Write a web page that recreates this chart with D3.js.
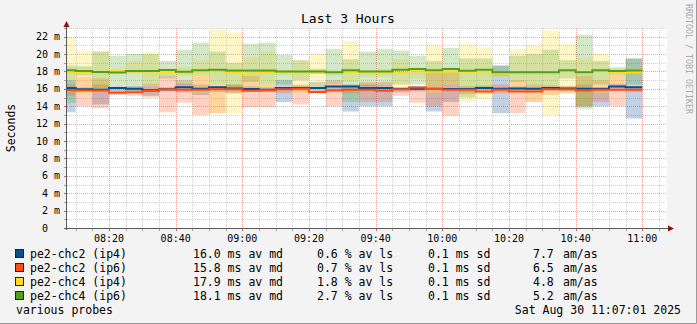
<!DOCTYPE html>
<html><head><meta charset="utf-8">
<script src="https://cdn.jsdelivr.net/npm/d3@7"></script>
<style>html,body{margin:0;padding:0;background:#f3f3f3}svg{display:block}</style>
</head><body>
<svg id="chart" width="697" height="324"></svg>
<script>
// 5-minute bins (start time of each bin)
const binStarts = ["08:05","08:10","08:15","08:20","08:25","08:30","08:35","08:40","08:45","08:50",
  "08:55","09:00","09:05","09:10","09:15","09:20","09:25","09:30","09:35","09:40",
  "09:45","09:50","09:55","10:00","10:05","10:10","10:15","10:20","10:25","10:30",
  "10:35","10:40","10:45","10:50","10:55"];
const binMinutes = 5;

// pe2-chc2 (ip4) — median and smoke range, ms
const chc2ip4Median = [16.1,15.95,15.9,16.1,16.0,15.85,15.95,16.2,16.0,16.2,16.05,15.98,15.9,16.1,16.1,16.1,16.28,16.28,16.1,16.1,15.98,16.0,16.0,15.98,15.98,16.1,16.0,16.05,16.0,16.1,16.05,16.0,16.0,16.28,16.2];
const chc2ip4Hi = [17.0,16.2,16.5,16.3,16.3,16.3,16.2,16.6,16.5,16.3,16.5,16.3,16.2,17.0,16.4,16.8,16.4,16.5,16.5,16.5,16.2,16.3,16.5,16.5,16.3,16.4,18.7,16.3,16.3,16.4,16.3,16.5,16.0,16.6,19.5];
const chc2ip4Lo = [13.3,15.8,14.2,15.6,15.7,15.2,15.7,15.6,15.3,15.6,15.5,15.7,15.6,14.5,15.7,15.8,15.8,13.4,14.0,14.0,15.6,15.7,13.4,14.5,15.6,15.8,13.2,15.7,15.6,15.8,15.7,14.0,14.0,16.0,12.6];

// pe2-chc2 (ip6)
const chc2ip6Median = [15.88,15.8,15.8,15.55,15.6,15.75,15.95,15.9,15.9,15.95,15.95,15.78,15.85,15.95,16.0,15.63,15.82,15.9,15.9,15.78,15.95,16.17,15.98,15.9,15.9,15.7,15.9,15.7,15.7,15.95,15.95,15.8,15.9,15.9,15.9];
const chc2ip6Hi = [16.5,17.4,17.2,15.8,16.0,16.6,17.5,17.0,17.5,16.5,16.5,17.5,16.5,16.2,16.5,15.9,17.0,16.2,16.8,16.8,16.2,16.3,18.0,18.0,16.0,16.0,16.5,17.0,16.5,16.3,16.3,17.5,17.0,17.5,16.2];
const chc2ip6Lo = [15.2,14.0,13.8,15.3,15.2,15.0,13.3,14.4,13.0,13.2,15.5,13.9,13.9,15.5,14.2,15.5,14.0,15.5,14.5,14.5,15.2,14.4,14.0,12.9,15.4,15.4,15.5,13.2,14.5,15.3,15.5,14.0,14.5,14.0,15.6];

// pe2-chc4 (ip4)
const chc4ip4Median = [17.95,17.9,17.9,18.05,18.0,18.0,17.95,17.8,18.0,18.1,17.85,17.78,17.85,17.9,17.82,17.82,17.9,17.9,17.85,17.82,17.82,18.1,17.97,18.0,17.97,18.0,17.75,17.82,17.85,17.95,18.1,17.9,18.1,17.82,17.9];
const chc4ip4Hi = [22.0,20.4,20.3,18.2,19.2,20.2,18.3,18.5,19.3,22.8,22.5,19.6,20.3,18.2,19.3,20.1,18.2,21.5,18.2,18.3,19.4,18.4,21.0,18.5,21.2,20.8,18.0,20.6,21.0,22.7,21.2,19.5,20.0,18.3,18.5];
const chc4ip4Lo = [17.0,15.3,16.0,17.8,17.8,16.5,17.5,17.5,15.5,13.2,13.2,15.8,16.0,17.6,15.5,15.8,17.5,16.8,17.4,17.4,16.2,17.2,15.5,16.5,14.5,14.8,17.4,15.5,14.5,13.0,15.5,14.2,15.5,16.5,17.5];

// pe2-chc4 (ip6)
const chc4ip6Median = [18.13,18.05,17.93,17.88,18.05,18.05,18.16,17.97,18.15,18.2,18.1,18.1,18.1,18.0,18.0,18.0,17.9,18.13,18.0,18.0,18.2,18.28,18.13,18.28,18.09,18.2,17.9,17.9,17.9,17.9,18.15,17.9,18.15,18.05,18.1];
const chc4ip6Hi = [18.7,18.6,20.3,19.8,20.0,20.0,19.2,20.5,21.3,20.3,19.0,21.2,21.3,19.9,19.3,18.3,20.6,19.4,20.3,20.6,20.4,19.8,19.2,20.7,19.5,19.5,18.7,19.8,20.0,20.5,19.3,22.2,19.2,18.5,19.5];
const chc4ip6Lo = [14.4,17.5,16.0,16.3,15.8,16.3,17.2,16.5,17.5,16.5,15.8,16.8,16.5,16.5,17.0,17.8,16.5,14.5,16.3,16.5,16.5,16.5,16.5,16.5,15.0,16.2,17.5,16.8,16.3,16.3,17.2,13.7,16.5,17.5,16.5];

// legend / statistics
const seriesNames = ["pe2-chc2 (ip4)","pe2-chc2 (ip6)","pe2-chc4 (ip4)","pe2-chc4 (ip6)"];
const seriesColors = ["#0c4d8c","#ff4a14","#ffdc24","#52a01e"];
const avgMedian = ["16.0","15.8","17.9","18.1"];
const avgLoss = ["0.6","0.7","1.8","2.7"];
const stdDev = ["0.1","0.1","0.1","0.1"];
const amAs = ["7.7","6.5","4.8","5.2"];

// axis ticks
const yTicks = [0,2,4,6,8,10,12,14,16,18,20,22];
const xTickLabels = ["08:20","08:40","09:00","09:20","09:40","10:00","10:20","10:40","11:00"];

const chartTitle = "Last 3 Hours";
const yTitle = "Seconds";
const footLeft = "various probes";
const footRight = "Sat Aug 30 11:07:01 2025";
const vendorText = "RRDTOOL / TOBI OETIKER";

const series = [
  {median: chc2ip4Median, hi: chc2ip4Hi, lo: chc2ip4Lo},
  {median: chc2ip6Median, hi: chc2ip6Hi, lo: chc2ip6Lo},
  {median: chc4ip4Median, hi: chc4ip4Hi, lo: chc4ip4Lo},
  {median: chc4ip6Median, hi: chc4ip6Hi, lo: chc4ip6Lo}
];

const hm = s => { const [h, m] = s.split(":").map(Number); return new Date(2025, 7, 30, h, m, 0); };
const t0 = new Date(2025, 7, 30, 8, 7, 24), t1 = new Date(2025, 7, 30, 11, 7, 24);

const W = 697, H = 324;
const L = 67, R = 667, T = 28, B = 228;
const mono = "'DejaVu Sans Mono', monospace";

const svg = d3.select("#chart");
svg.append("rect").attr("width", W).attr("height", H).attr("fill", "#f3f3f3");
svg.append("path").attr("d", `M${W-0.5},0V${H-0.5}H0`).attr("fill", "none").attr("stroke", "#9a9a9a");

const x = d3.scaleTime().domain([t0, t1]).range([L, R]);
const y = d3.scaleLinear().domain([0, 23]).range([B, T]);

svg.append("rect").attr("x", L).attr("y", T).attr("width", R - L).attr("height", B - T).attr("fill", "#fff");
svg.append("clipPath").attr("id", "plot").append("rect").attr("x", L).attr("y", T - 2).attr("width", R - L).attr("height", B - T + 2);

// grid
const grid = svg.append("g");
const yMinor = d3.range(1, 24).filter(v => v % 2 === 1);
const yMajor = d3.range(2, 24, 2);
const px = v => Math.round(v) + 0.5;
grid.selectAll(".hmin").data(yMinor).join("line")
  .attr("x1", L).attr("x2", R).attr("y1", d => px(y(d))).attr("y2", d => px(y(d)))
  .attr("stroke", "#cfcfcf").attr("stroke-dasharray", "1,1");
const xMinorTicks = d3.timeMinute.every(5).range(t0, t1).filter(d => d.getMinutes() % 20 !== 0);
const xMajorTicks = d3.timeMinute.every(20).range(t0, t1);
grid.selectAll(".vmin").data(xMinorTicks).join("line")
  .attr("y1", T).attr("y2", B).attr("x1", d => px(x(d))).attr("x2", d => px(x(d)))
  .attr("stroke", "#cfcfcf").attr("stroke-dasharray", "1,1");
grid.selectAll(".hmaj").data(yMajor).join("line")
  .attr("x1", L).attr("x2", R).attr("y1", d => px(y(d))).attr("y2", d => px(y(d)))
  .attr("stroke", "#eaa3a3").attr("stroke-dasharray", "1,1");
grid.selectAll(".vmaj").data(xMajorTicks).join("line")
  .attr("y1", T).attr("y2", B).attr("x1", d => px(x(d))).attr("x2", d => px(x(d)))
  .attr("stroke", "#eaa3a3").attr("stroke-dasharray", "1,1");

// smoke bands and medians
const plot = svg.append("g").attr("clip-path", "url(#plot)");
const pts = (arr) => {
  const p = binStarts.map((s, i) => ({t: hm(s), v: arr[i]}));
  const last = binStarts[binStarts.length - 1];
  p.push({t: d3.timeMinute.offset(hm(last), binMinutes), v: arr[arr.length - 1]});
  return p;
};
const bandPts = (hi, lo) => {
  const p = binStarts.map((s, i) => ({t: hm(s), hi: hi[i], lo: lo[i]}));
  const n = binStarts.length - 1;
  p.push({t: d3.timeMinute.offset(hm(binStarts[n]), binMinutes), hi: hi[n], lo: lo[n]});
  return p;
};
const area = d3.area().curve(d3.curveStepAfter).x(d => x(d.t)).y0(d => y(d.lo)).y1(d => y(d.hi));
const line = d3.line().curve(d3.curveStepAfter).x(d => x(d.t)).y(d => y(d.v));

series.forEach((s, i) => {
  plot.append("path").attr("d", area(bandPts(s.hi, s.lo)))
    .attr("fill", seriesColors[i]).attr("fill-opacity", 0.25);
});
[0, 1, 2, 3].forEach(i => {
  plot.append("path").attr("d", line(pts(series[i].median)))
    .attr("fill", "none").attr("stroke", seriesColors[i]).attr("stroke-width", 2);
});

// axes
const axisColor = "#5a5a5a";
svg.append("line").attr("x1", L - 0.5).attr("x2", L - 0.5).attr("y1", B + 2).attr("y2", 24).attr("stroke", axisColor);
svg.append("line").attr("x1", L - 3).attr("x2", 670).attr("y1", B + 0.5).attr("y2", B + 0.5).attr("stroke", axisColor);
svg.append("path").attr("d", `M${L - 3.5},27L${L - 0.5},21L${L + 2.5},27Z`).attr("fill", "#8a1414");
svg.append("path").attr("d", `M668,${B - 2.5}L674,${B + 0.5}L668,${B + 3.5}Z`).attr("fill", "#8a1414");

// axis tick marks
svg.selectAll(".ytm").data(d3.range(1, 24)).join("line")
  .attr("x1", L - 3).attr("x2", L - 1).attr("y1", d => px(y(d))).attr("y2", d => px(y(d)))
  .attr("stroke", d => d % 2 === 0 ? "#d06060" : "#a0a0a0");
svg.selectAll(".xtm").data(xMinorTicks.concat(xMajorTicks)).join("line")
  .attr("y1", B + 1).attr("y2", B + 3).attr("x1", d => px(x(d))).attr("x2", d => px(x(d)))
  .attr("stroke", d => d.getMinutes() % 20 === 0 ? "#d06060" : "#a0a0a0");

// y labels
const yl = svg.append("g").attr("font-family", mono).attr("font-size", 10).attr("fill", "#000");
yl.selectAll(".yn").data(yTicks).join("text")
  .attr("x", 48).attr("y", d => y(d) + 3.5).attr("text-anchor", "end").text(d => d);
yl.selectAll(".yu").data(yTicks.filter(d => d > 0)).join("text")
  .attr("x", 54).attr("y", d => y(d) + 3.5).text("m");

// x labels
svg.append("g").attr("font-family", mono).attr("font-size", 10)
  .selectAll("text").data(xTickLabels).join("text")
  .attr("x", d => x(hm(d))).attr("y", 242).attr("text-anchor", "middle").text(d => d);

// titles
svg.append("text").attr("x", 348).attr("y", 23).attr("text-anchor", "middle")
  .attr("font-family", mono).attr("font-size", 13).text(chartTitle);
svg.append("text").attr("transform", "translate(15,128) rotate(-90)").attr("text-anchor", "middle")
  .attr("font-family", mono).attr("font-size", 11.5).text(yTitle);
svg.append("text").attr("transform", "translate(686,4) rotate(90)")
  .attr("font-family", mono).attr("font-size", 8.3).attr("fill", "#aaaaaa").text(vendorText);

// legend
const lg = svg.append("g").attr("font-family", mono).attr("font-size", 11.5).attr("fill", "#000");
seriesNames.forEach((name, i) => {
  const by = 258 + i * 14;
  lg.append("rect").attr("x", 15.5).attr("y", by - 8.5).attr("width", 8).attr("height", 8)
    .attr("fill", seriesColors[i]).attr("stroke", "#222");
  lg.append("text").attr("x", 30).attr("y", by).text(name);
  lg.append("text").attr("x", 193).attr("y", by).text(`${avgMedian[i]} ms av md`);
  lg.append("text").attr("x", 317).attr("y", by).text(`${avgLoss[i]} % av ls`);
  lg.append("text").attr("x", 428).attr("y", by).text(`${stdDev[i]} ms sd`);
  lg.append("text").attr("x", 533).attr("y", by).text(amAs[i]);
  lg.append("text").attr("x", 563).attr("y", by).text("am/as");
});
lg.append("text").attr("x", 16).attr("y", 314).text(footLeft);
lg.append("text").attr("x", 681).attr("y", 314).attr("text-anchor", "end").text(footRight);
</script>
</body></html>
